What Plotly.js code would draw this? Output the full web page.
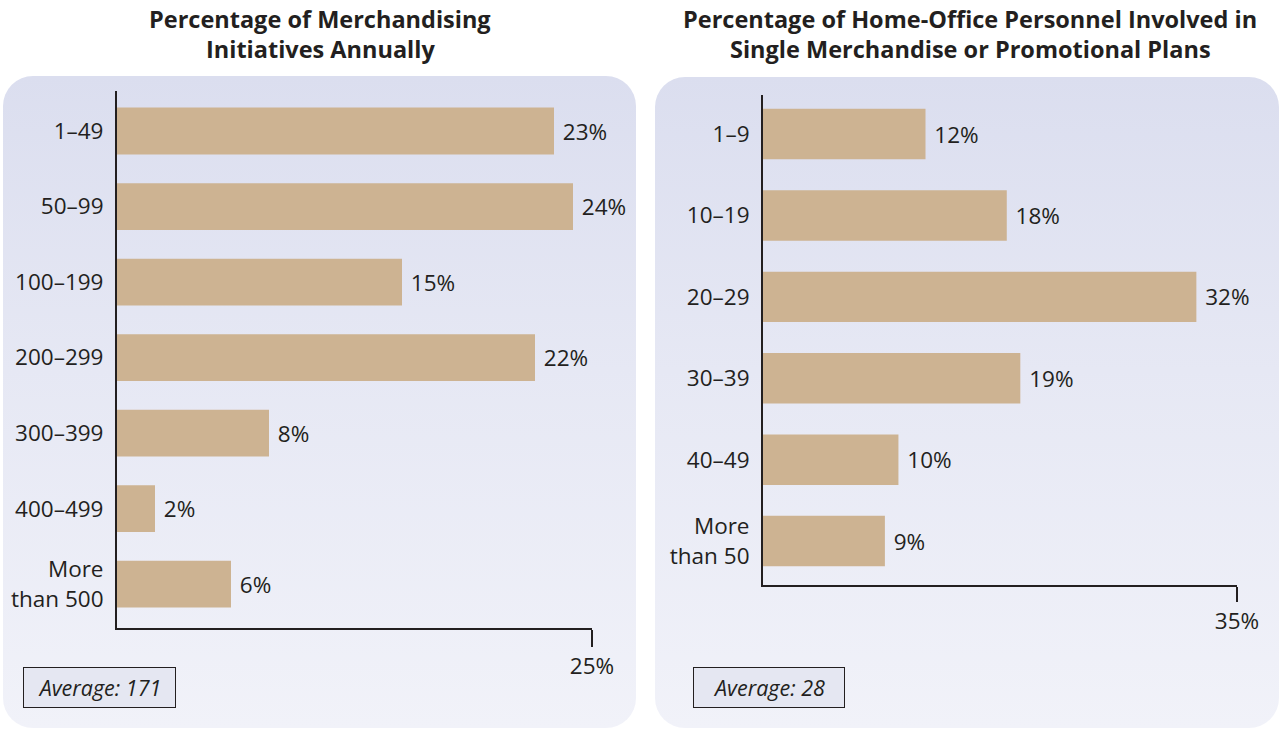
<!DOCTYPE html>
<html>
<head>
<meta charset="utf-8">
<script src="https://cdn.plot.ly/plotly-3.0.1.min.js"></script>
<style>
  html, body { margin: 0; padding: 0; background: #ffffff; }
  #wrap { position: relative; width: 1282px; height: 730px; overflow: hidden; }
  .panel { position: absolute; border-radius: 30px;
           background: linear-gradient(to bottom, #dbdeef 0%, #e6e8f4 45%, #f1f2f9 100%); }
  #p1 { left: 3px; top: 76px; width: 633px; height: 652px; }
  #p2 { left: 655px; top: 77px; width: 624px; height: 651px; }
  #chart { position: absolute; left: 0; top: 0; width: 1282px; height: 730px; }
</style>
</head>
<body>
<div id="wrap">
  <div class="panel" id="p1"></div>
  <div class="panel" id="p2"></div>
  <div id="chart"></div>
</div>
<script>
// ---- data ----
const initiativeCategories = ["1–49", "50–99", "100–199", "200–299", "300–399", "400–499", "More<br>than 500"];
const initiativeValues = [23, 24, 15, 22, 8, 2, 6];
const personnelCategories = ["1–9", "10–19", "20–29", "30–39", "40–49", "More<br>than 50"];
const personnelValues = [12, 18, 32, 19, 10, 9];
const leftTitle = ["Percentage of Merchandising", "Initiatives Annually"];
const rightTitle = ["Percentage of Home-Office Personnel Involved in", "Single Merchandise or Promotional Plans"];
const leftAverage = "Average: 171";
const rightAverage = "Average: 28";
const leftTickVals = [25];
const leftTickText = ["25%"];
const rightTickVals = [35];
const rightTickText = ["35%"];

// ---- style ----
const W = 1282, H = 730;
const FONT = "'Open Sans', 'Noto Sans', sans-serif";
const INK = "#231f20";
const BAR = "#cdb392";
const LBL = 22.5;
const px = v => v / W;
const py = v => 1 - v / H;

const traces = [
  {
    type: "bar", orientation: "h",
    x: initiativeValues, y: initiativeCategories,
    xaxis: "x", yaxis: "y",
    marker: { color: BAR, line: { width: 0 } },
    texttemplate: " %{x}%", textposition: "outside", cliponaxis: false,
    textfont: { family: FONT, size: LBL, color: INK },
    hoverinfo: "skip"
  },
  {
    type: "bar", orientation: "h",
    x: personnelValues, y: personnelCategories,
    xaxis: "x2", yaxis: "y2",
    marker: { color: BAR, line: { width: 0 } },
    texttemplate: " %{x}%", textposition: "outside", cliponaxis: false,
    textfont: { family: FONT, size: LBL, color: INK },
    hoverinfo: "skip"
  }
];

const xCommon = {
  showgrid: false, zeroline: false, showline: true,
  linecolor: INK, linewidth: 2, ticks: "outside", tickwidth: 2, tickcolor: INK,
  tickfont: { family: FONT, size: LBL, color: INK }, fixedrange: true
};
const yCommon = {
  type: "category", showgrid: false, zeroline: false, showline: true,
  linecolor: INK, linewidth: 2, ticks: "",
  tickfont: { family: FONT, size: LBL, color: INK }, ticklabelstandoff: 7, fixedrange: true
};

const TF = { family: FONT, size: 23.5, color: INK };
const AF = { family: FONT, size: 21.5, color: INK, style: "italic" };

const layout = {
  width: W, height: H,
  margin: { l: 0, r: 0, t: 0, b: 0 },
  paper_bgcolor: "rgba(0,0,0,0)", plot_bgcolor: "rgba(0,0,0,0)",
  showlegend: false,
  font: { family: FONT, color: INK },
  xaxis: Object.assign({}, xCommon, {
    domain: [px(117), px(592)], range: [0, 25], anchor: "y",
    tickvals: leftTickVals, ticktext: leftTickText, ticklen: 17
  }),
  yaxis: Object.assign({}, yCommon, {
    domain: [py(628), py(91)], range: [6.58, -0.53], anchor: "x"
  }),
  xaxis2: Object.assign({}, xCommon, {
    domain: [px(763), px(1237)], range: [0, 35], anchor: "y2",
    tickvals: rightTickVals, ticktext: rightTickText, ticklen: 15
  }),
  yaxis2: Object.assign({}, yCommon, {
    domain: [py(585), py(95)], range: [5.54, -0.48], anchor: "x2"
  }),
  bargap: 0.38,
  annotations: [
    { xref: "paper", yref: "paper", x: px(320), y: py(19), xanchor: "center", yanchor: "middle",
      text: "<b>" + leftTitle[0] + "</b>", showarrow: false, font: TF },
    { xref: "paper", yref: "paper", x: px(320), y: py(49), xanchor: "center", yanchor: "middle",
      text: "<b>" + leftTitle[1] + "</b>", showarrow: false, font: TF },
    { xref: "paper", yref: "paper", x: px(970), y: py(19), xanchor: "center", yanchor: "middle",
      text: "<b>" + rightTitle[0] + "</b>", showarrow: false, font: TF },
    { xref: "paper", yref: "paper", x: px(970), y: py(49), xanchor: "center", yanchor: "middle",
      text: "<b>" + rightTitle[1] + "</b>", showarrow: false, font: TF },
    { xref: "paper", yref: "paper", x: px(99.5), y: py(687.5), xanchor: "center", yanchor: "middle",
      text: leftAverage, showarrow: false, width: 151, height: 39,
      bgcolor: "#e5e7f2", bordercolor: INK, borderwidth: 1, borderpad: 0, font: AF },
    { xref: "paper", yref: "paper", x: px(769), y: py(687.5), xanchor: "center", yanchor: "middle",
      text: rightAverage, showarrow: false, width: 150, height: 39,
      bgcolor: "#e5e7f2", bordercolor: INK, borderwidth: 1, borderpad: 0, font: AF }
  ]
};

Plotly.newPlot("chart", traces, layout, { displayModeBar: false, staticPlot: true });
</script>
</body>
</html>
